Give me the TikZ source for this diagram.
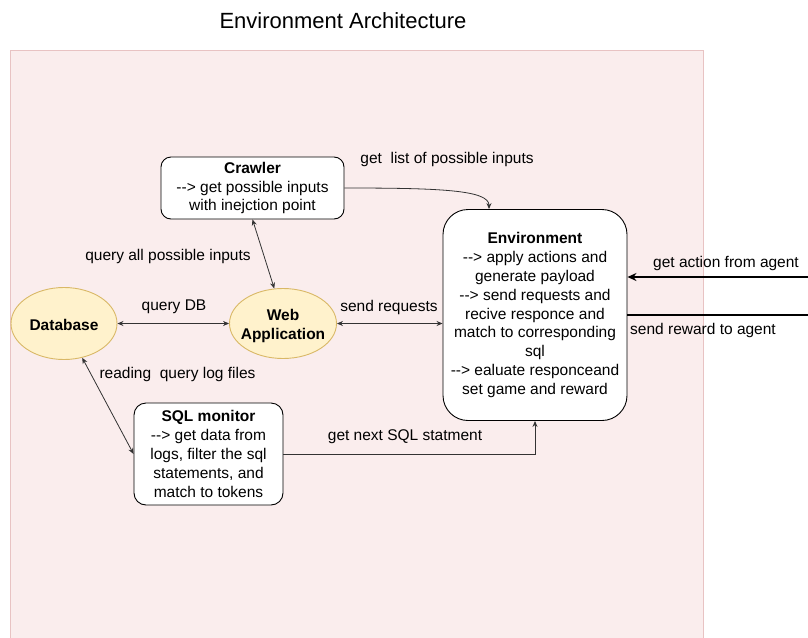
\documentclass[tikz,border=0pt]{standalone}
\usepackage{fontspec}
\setmainfont{Liberation Sans}[Ligatures=TeXOff]
\usetikzlibrary{arrows.meta,calc,shapes.geometric}

\definecolor{bgfill}{HTML}{FAEDED}
\definecolor{bgline}{HTML}{E8C3C3}
\definecolor{ellfill}{HTML}{FFF2CC}
\definecolor{ellline}{HTML}{D9B866}
\definecolor{edgecol}{HTML}{333333}

% centred lines that do not widen the surrounding ellipse; the extra
% height above moves the lines a little below the ellipse centre
\newcommand{\stackedlines}[1]{\raisebox{0pt}[\dimexpr\height+6pt\relax][\depth]{\makebox[0pt]{\begin{tabular}{@{}c@{}}#1\end{tabular}}}}

\tikzset{
  basefont/.style={font=\fontsize{15.5}{18.9}\selectfont},
  procbox/.style={draw=black, fill=white, line width=0.9pt, align=center,
    inner sep=0pt, rounded corners=10pt},
  component/.style={ellipse, draw=ellline, fill=ellfill, line width=0.9pt,
    align=center, inner sep=0pt, font=\fontsize{15.5}{19.2}\selectfont\bfseries},
  conn/.style={draw=edgecol, line width=0.8pt, -{Stealth[length=6pt,width=5pt]}},
  biconn/.style={draw=edgecol, line width=0.8pt,
    {Stealth[length=6pt,width=5pt]}-{Stealth[length=6pt,width=5pt]}},
  agentlink/.style={draw=black, line width=1.5pt},
  edgelabel/.style={inner sep=0pt, align=center},
}

\begin{document}
\begin{tikzpicture}[x=1pt, y=-1pt, basefont]
  \useasboundingbox (0,0) rectangle (808,637);
  \fill[white] (0,0) rectangle (808,637);

  % container
  \draw[bgline, fill=bgfill, line width=0.8pt] (10,50) rectangle (703,645);
  \node[font=\fontsize{22}{26}\selectfont, inner sep=0pt] (title) at (343,21) {Environment Architecture};

  % blocks
  \node[procbox, minimum width=183pt, minimum height=62pt] (crawler) at (252.5,188)
    {\textbf{Crawler}\\--> get possible inputs\\with inejction point};
  \node[procbox, rounded corners=25pt, minimum width=184pt, minimum height=211pt] (env) at (535,315)
    {\textbf{Environment}\\--> apply actions and\\generate payload\\--> send requests and\\recive responce and\\match to corresponding\\sql\\--> ealuate responceand\\set game and reward};
  \node[procbox, rounded corners=12pt, minimum width=149pt, minimum height=102pt] (sqlmon) at (208.5,454)
    {\textbf{SQL monitor}\\--> get data from\\logs, filter the sql\\statements, and\\match to tokens};
  \node[component, minimum width=106pt, minimum height=72pt] (db) at (64,323.5) {\stackedlines{Database}};
  \node[component, minimum width=107pt, minimum height=70pt] (web) at (283,323.5) {\stackedlines{Web\\Application}};

  % connectors
  \coordinate (envtop) at ([xshift=-46pt]env.north);
  \draw[conn] (crawler.east) .. controls (440,188) and (489,190) .. (envtop);
  \draw[biconn] (crawler.south) -- (web.104);
  \draw[biconn] (db.east) -- (web.west);
  \draw[biconn] (web.east) -- (web.east -| env.west);
  \draw[biconn] (db.-62) -- (sqlmon.west);
  \draw[conn] (sqlmon.east) -| (env.south);

  \coordinate (agentin) at (808,277);
  \coordinate (agentout) at (808,315);
  \draw[agentlink, -{Stealth[length=9pt,width=8pt]}] (agentin) -- (agentin -| env.east);
  \draw[agentlink] (agentout -| env.east) -- (agentout);

  % connector labels
  \node[edgelabel] (lblcrawl) at (447,159) {get~~list of possible inputs};
  \node[edgelabel] (lblquery) at (168,256) {query all possible inputs};
  \node[edgelabel] (lbldb) at (174,307) {query DB};
  \node[edgelabel] (lblsend) at (389,307) {send requests};
  \node[edgelabel] (lbllog) at (177.5,374) {reading~~query log files};
  \node[edgelabel] (lblnext) at (405,437) {get next SQL statment};
  \node[edgelabel] (lblaction) at (726,263) {get action from agent};
  \node[edgelabel] (lblreward) at (703,330) {send reward to agent};
\end{tikzpicture}
\end{document}
